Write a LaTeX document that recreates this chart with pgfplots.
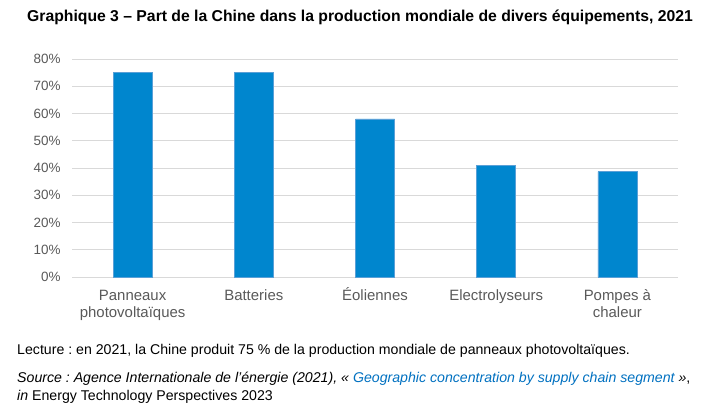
\documentclass[border=0pt]{standalone}
\usepackage{pgfplots}
\pgfplotsset{compat=1.18}
\usepackage{fontspec}
\setmainfont{Liberation Sans}
\frenchspacing
\definecolor{barblue}{RGB}{0,134,206}
\definecolor{baredge}{RGB}{90,160,215}
\definecolor{gridgray}{RGB}{217,217,217}
\definecolor{tickgray}{RGB}{89,89,89}
\definecolor{linkblue}{RGB}{0,112,192}
\begin{document}
\begin{tikzpicture}[x=1bp,y=1bp]
\useasboundingbox (0,0) rectangle (706,416);
\begin{axis}[
  at={(72bp,139bp)}, anchor=south west,
  scale only axis, width=606bp, height=218bp,
  xmin=-0.5, xmax=4.5, ymin=0, ymax=80,
  axis line style={draw=none},
  xtick=data,
  xticklabels={{\vphantom{É}Panneaux\\photovoltaïques},{\vphantom{É}Batteries},{Éoliennes},{\vphantom{É}Electrolyseurs},{\vphantom{É}Pompes à\\chaleur}},
  x tick label style={align=center, font=\fontsize{15}{16.5}\selectfont, text=tickgray, anchor=north, yshift=-7.5bp},
  ytick={0,10,...,80},
  yticklabel={\pgfmathprintnumber{\tick}\%},
  /pgf/number format/assume math mode=true,
  y tick label style={font=\fontsize{13.5}{15}\selectfont, text=tickgray, xshift=-8bp},
  major tick length=0pt,
  ymajorgrids, grid style={gridgray, line width=0.9bp},
  clip=false,
]
\addplot[ybar, bar width=39bp, fill=barblue, draw=baredge, line width=0.5bp] coordinates {(0,75) (1,75) (2,58) (3,41) (4,38.7)};
\end{axis}
\node[anchor=base, inner sep=0pt, font=\bfseries\fontsize{15.8}{18}\selectfont] at (360,394) {Graphique 3 -- Part de la Chine dans la production mondiale de divers équipements, 2021};
\node[anchor=base west, inner sep=0pt, font=\fontsize{14.2}{16}\selectfont] at (17,62) {Lecture : en 2021, la Chine produit 75 \% de la production mondiale de panneaux photovoltaïques.};
\node[anchor=base west, inner sep=0pt, font=\fontsize{14.2}{16}\selectfont] at (17,34) {\textit{Source : Agence Internationale de l’énergie (2021), « \textcolor{linkblue}{Geographic concentration by supply chain segment} »},};
\node[anchor=base west, inner sep=0pt, font=\fontsize{14.2}{16}\selectfont] at (17,16) {\textit{in} Energy Technology Perspectives 2023};
\end{tikzpicture}
\end{document}
